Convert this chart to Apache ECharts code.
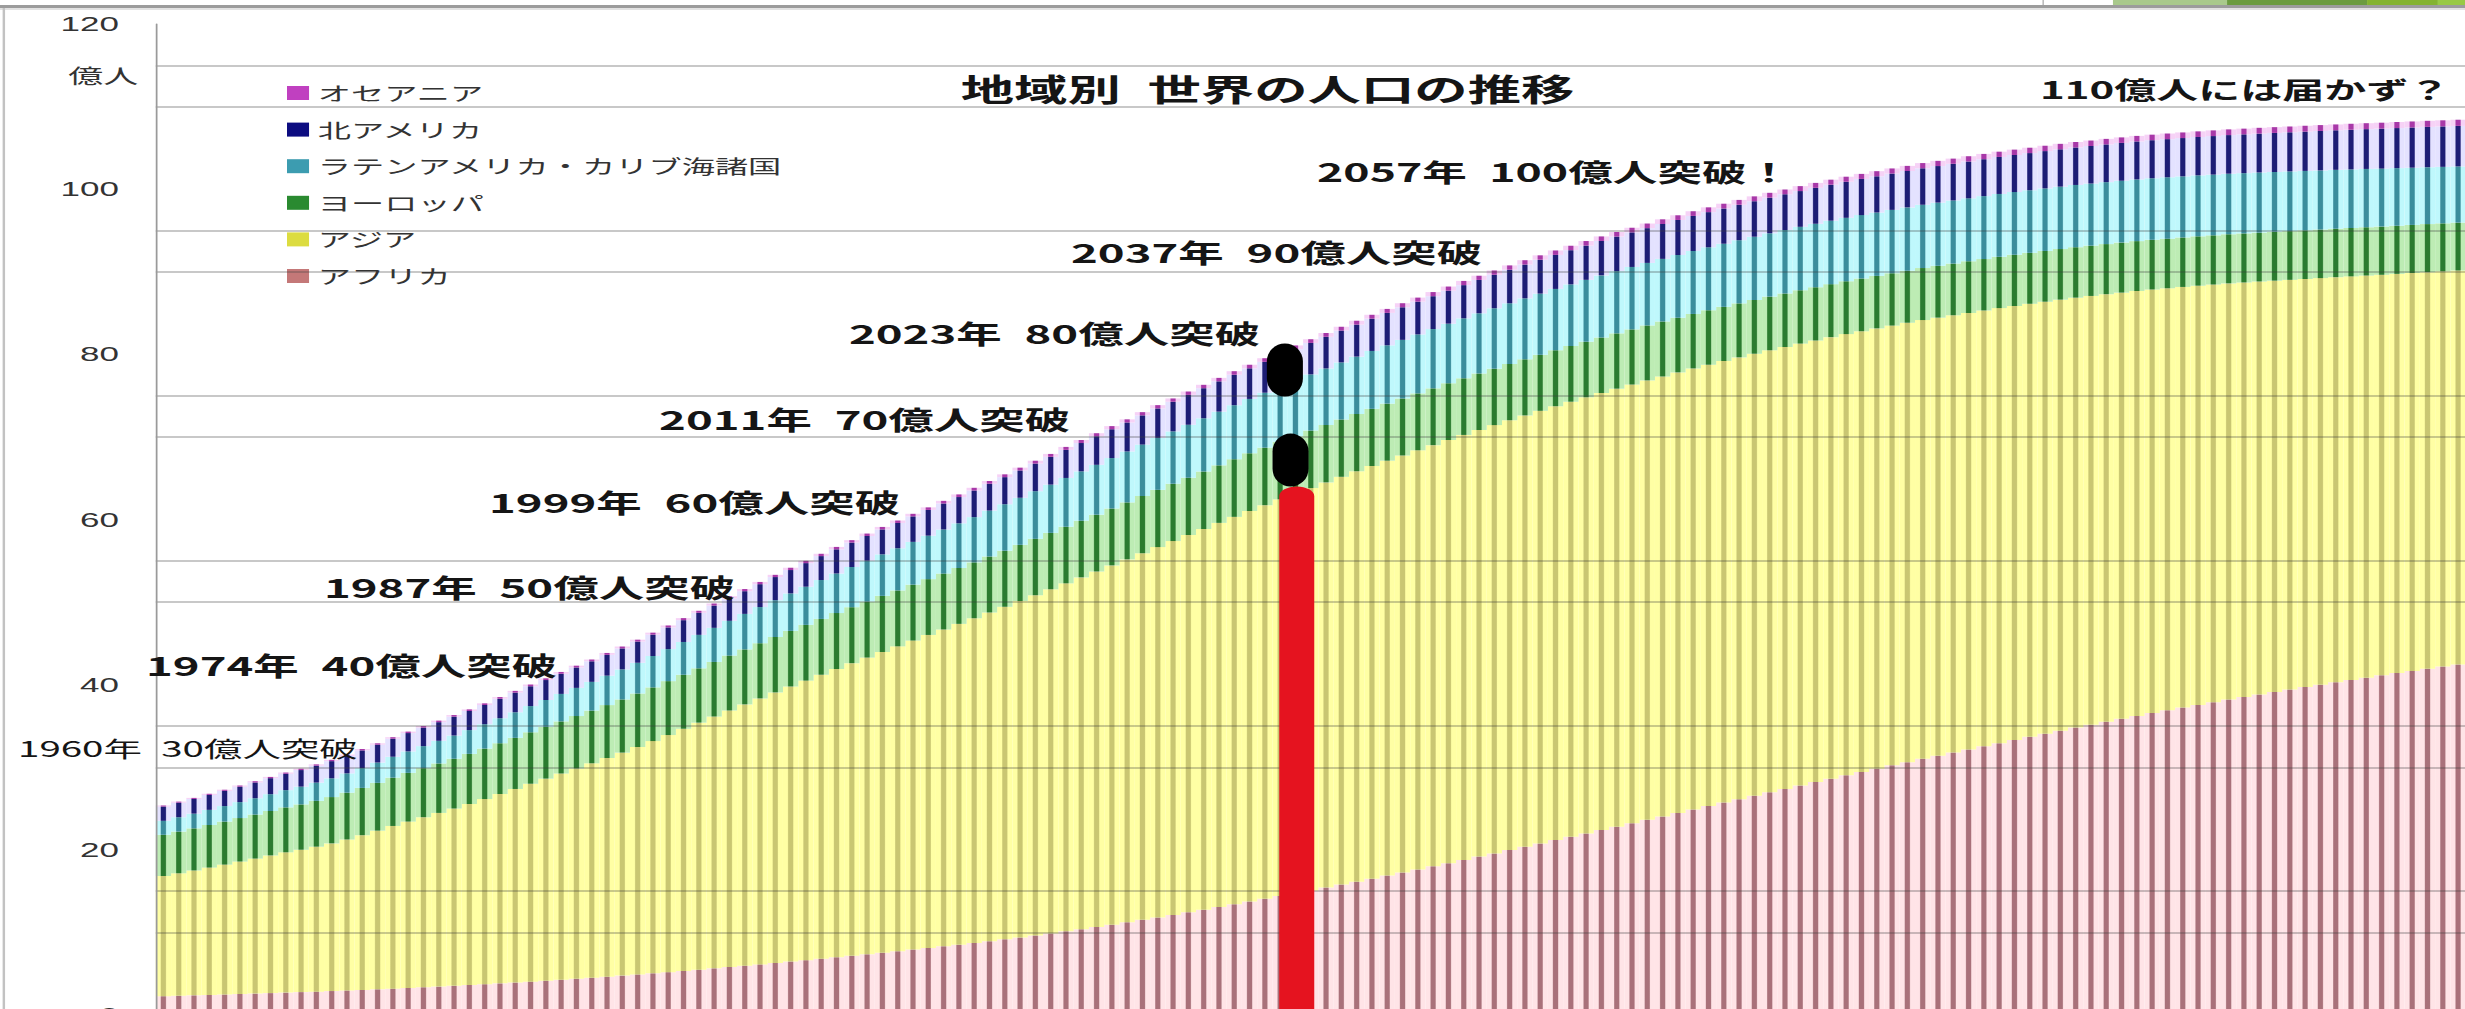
<!DOCTYPE html>
<html lang="ja">
<head>
<meta charset="utf-8">
<title>地域別 世界の人口の推移</title>
<script src="https://cdn.jsdelivr.net/npm/echarts@6/dist/echarts.min.js"></script>
<style>
  html, body { margin: 0; padding: 0; background: #fff; overflow: hidden; }
  #wrap { width: 2465px; height: 1009px; overflow: hidden; position: relative; }
  /* the slide stretches the whole chart sideways */
  #chart { width: 1409px; height: 1040px; transform: scaleX(1.75); transform-origin: 0 0; }
</style>
</head>
<body>
<div id="wrap"><div id="chart"></div></div>
<script>
// ---- data: population by region, 1950-2100 (unit: 億人) ----
const years = Array.from({ length: 151 }, (_, i) => String(1950 + i));

const africa = [
  2.28, 2.33, 2.38, 2.43, 2.48,      // 1950
  2.54, 2.59, 2.65, 2.71, 2.77,      // 1955
  2.83, 2.90, 2.97, 3.04, 3.11,      // 1960
  3.19, 3.27, 3.36, 3.44, 3.53,      // 1965
  3.63, 3.73, 3.83, 3.93, 4.04,      // 1970
  4.15, 4.27, 4.39, 4.51, 4.64,      // 1975
  4.77, 4.91, 5.05, 5.19, 5.34,      // 1980
  5.49, 5.65, 5.81, 5.97, 6.13,      // 1985
  6.30, 6.47, 6.64, 6.82, 6.99,      // 1990
  7.17, 7.35, 7.54, 7.72, 7.92,      // 1995
  8.11, 8.31, 8.51, 8.72, 8.94,      // 2000
  9.16, 9.39, 9.63, 9.88, 10.13,     // 2005
  10.39, 10.66, 10.94, 11.22, 11.52, // 2010
  11.82, 12.12, 12.43, 12.75, 13.08, // 2015
  13.41, 13.74, 14.07, 14.41, 14.74, // 2020
  15.08, 15.43, 15.79, 16.15, 16.51, // 2025
  16.88, 17.25, 17.63, 18.01, 18.39, // 2030
  18.78, 19.18, 19.57, 19.97, 20.37, // 2035
  20.77, 21.18, 21.58, 21.99, 22.40, // 2040
  22.81, 23.22, 23.64, 24.05, 24.47, // 2045
  24.89, 25.31, 25.72, 26.14, 26.55, // 2050
  26.97, 27.38, 27.79, 28.20, 28.62, // 2055
  29.03, 29.43, 29.83, 30.23, 30.62, // 2060
  31.02, 31.40, 31.78, 32.16, 32.54, // 2065
  32.92, 33.30, 33.68, 34.06, 34.43, // 2070
  34.80, 35.16, 35.52, 35.87, 36.22, // 2075
  36.56, 36.89, 37.22, 37.55, 37.87, // 2080
  38.19, 38.50, 38.81, 39.11, 39.41, // 2085
  39.71, 40.00, 40.29, 40.57, 40.85, // 2090
  41.13, 41.40, 41.67, 41.93, 42.19, // 2095
  42.45                              // 2100
];

const asia = [
  14.55, 14.83, 15.12, 15.42, 15.73, // 1950
  16.04, 16.35, 16.67, 16.99, 17.24, // 1955
  17.55, 17.88, 18.28, 18.73, 19.21, // 1960
  19.70, 20.15, 20.59, 21.03, 21.47, // 1965
  21.92, 22.42, 22.93, 23.44, 23.96, // 1970
  24.47, 24.97, 25.47, 25.97, 26.48, // 1975
  27.00, 27.55, 28.12, 28.71, 29.31, // 1980
  29.91, 30.49, 31.07, 31.64, 32.20, // 1985
  32.76, 33.31, 33.85, 34.38, 34.91, // 1990
  35.43, 35.93, 36.43, 36.92, 37.42, // 1995
  37.91, 38.38, 38.85, 39.32, 39.80, // 2000
  40.27, 40.74, 41.21, 41.67, 42.14, // 2005
  42.60, 43.05, 43.50, 43.95, 44.40, // 2010
  44.84, 45.27, 45.69, 46.10, 46.51, // 2015
  46.91, 47.29, 47.66, 48.03, 48.39, // 2020
  48.73, 49.06, 49.38, 49.68, 49.97, // 2025
  50.24, 50.50, 50.75, 50.99, 51.23, // 2030
  51.46, 51.66, 51.86, 52.05, 52.23, // 2035
  52.39, 52.54, 52.68, 52.81, 52.93, // 2040
  53.03, 53.12, 53.20, 53.28, 53.34, // 2045
  53.40, 53.44, 53.47, 53.49, 53.51, // 2050
  53.52, 53.52, 53.51, 53.49, 53.46, // 2055
  53.42, 53.37, 53.31, 53.25, 53.19, // 2060
  53.13, 53.04, 52.95, 52.86, 52.77, // 2065
  52.68, 52.56, 52.44, 52.31, 52.19, // 2070
  52.06, 51.91, 51.76, 51.60, 51.45, // 2075
  51.29, 51.11, 50.94, 50.76, 50.58, // 2080
  50.40, 50.20, 50.01, 49.81, 49.61, // 2085
  49.41, 49.23, 49.05, 48.87, 48.69, // 2090
  48.50, 48.34, 48.18, 48.02, 47.86, // 2095
  47.70                              // 2100
];

const europe = [
  4.99, 5.05, 5.10, 5.16, 5.21, // 1950
  5.27, 5.33, 5.38, 5.44, 5.49, // 1955
  5.55, 5.61, 5.67, 5.73, 5.79, // 1960
  5.85, 5.90, 5.94, 5.99, 6.03, // 1965
  6.07, 6.11, 6.15, 6.19, 6.23, // 1970
  6.27, 6.31, 6.34, 6.38, 6.41, // 1975
  6.44, 6.47, 6.50, 6.53, 6.55, // 1980
  6.58, 6.61, 6.64, 6.66, 6.69, // 1985
  6.71, 6.73, 6.75, 6.76, 6.77, // 1990
  6.78, 6.78, 6.78, 6.77, 6.77, // 1995
  6.76, 6.76, 6.77, 6.77, 6.78, // 2000
  6.79, 6.80, 6.82, 6.83, 6.85, // 2005
  6.86, 6.87, 6.89, 6.90, 6.92, // 2010
  6.93, 6.94, 6.95, 6.96, 6.97, // 2015
  6.98, 6.98, 6.97, 6.97, 6.96, // 2020
  6.96, 6.95, 6.94, 6.93, 6.92, // 2025
  6.91, 6.90, 6.89, 6.88, 6.87, // 2030
  6.86, 6.84, 6.83, 6.81, 6.80, // 2035
  6.78, 6.76, 6.75, 6.73, 6.72, // 2040
  6.70, 6.68, 6.66, 6.64, 6.62, // 2045
  6.60, 6.58, 6.56, 6.54, 6.52, // 2050
  6.50, 6.48, 6.46, 6.44, 6.42, // 2055
  6.40, 6.38, 6.36, 6.34, 6.32, // 2060
  6.30, 6.28, 6.26, 6.24, 6.23, // 2065
  6.21, 6.19, 6.17, 6.15, 6.13, // 2070
  6.11, 6.09, 6.07, 6.06, 6.04, // 2075
  6.02, 6.01, 5.99, 5.98, 5.96, // 2080
  5.95, 5.94, 5.92, 5.91, 5.90, // 2085
  5.89, 5.88, 5.87, 5.86, 5.85, // 2090
  5.84, 5.83, 5.82, 5.82, 5.81, // 2095
  5.80                          // 2100
];

const latinAmerica = [
  1.69, 1.74, 1.78, 1.83, 1.88, // 1950
  1.93, 1.98, 2.04, 2.09, 2.15, // 1955
  2.21, 2.27, 2.34, 2.40, 2.46, // 1960
  2.53, 2.60, 2.67, 2.74, 2.81, // 1965
  2.88, 2.95, 3.03, 3.10, 3.18, // 1970
  3.25, 3.33, 3.41, 3.48, 3.56, // 1975
  3.64, 3.72, 3.80, 3.88, 3.97, // 1980
  4.05, 4.13, 4.21, 4.30, 4.38, // 1985
  4.46, 4.54, 4.62, 4.71, 4.79, // 1990
  4.87, 4.95, 5.03, 5.11, 5.18, // 1995
  5.26, 5.34, 5.41, 5.48, 5.56, // 2000
  5.63, 5.70, 5.77, 5.84, 5.91, // 2005
  5.98, 6.04, 6.11, 6.17, 6.23, // 2010
  6.29, 6.34, 6.40, 6.45, 6.50, // 2015
  6.54, 6.59, 6.65, 6.70, 6.75, // 2020
  6.80, 6.85, 6.91, 6.96, 7.01, // 2025
  7.06, 7.10, 7.14, 7.18, 7.22, // 2030
  7.26, 7.29, 7.32, 7.35, 7.38, // 2035
  7.41, 7.44, 7.46, 7.49, 7.51, // 2040
  7.54, 7.56, 7.57, 7.59, 7.60, // 2045
  7.62, 7.63, 7.64, 7.65, 7.66, // 2050
  7.67, 7.67, 7.68, 7.68, 7.68, // 2055
  7.68, 7.68, 7.67, 7.67, 7.66, // 2060
  7.66, 7.65, 7.64, 7.63, 7.62, // 2065
  7.61, 7.60, 7.58, 7.57, 7.55, // 2070
  7.54, 7.52, 7.50, 7.49, 7.47, // 2075
  7.45, 7.43, 7.40, 7.38, 7.35, // 2080
  7.33, 7.30, 7.28, 7.25, 7.23, // 2085
  7.20, 7.16, 7.13, 7.09, 7.06, // 2090
  7.02, 6.98, 6.93, 6.89, 6.84, // 2095
  6.80                          // 2100
];

const northAmerica = [
  1.73, 1.76, 1.78, 1.81, 1.84, // 1950
  1.87, 1.91, 1.94, 1.98, 2.01, // 1955
  2.05, 2.08, 2.11, 2.14, 2.16, // 1960
  2.19, 2.22, 2.24, 2.26, 2.29, // 1965
  2.31, 2.33, 2.36, 2.38, 2.40, // 1970
  2.42, 2.44, 2.47, 2.49, 2.52, // 1975
  2.54, 2.57, 2.59, 2.62, 2.64, // 1980
  2.67, 2.70, 2.72, 2.75, 2.77, // 1985
  2.80, 2.83, 2.86, 2.90, 2.93, // 1990
  2.96, 2.99, 3.02, 3.06, 3.09, // 1995
  3.12, 3.15, 3.18, 3.22, 3.25, // 2000
  3.28, 3.31, 3.34, 3.37, 3.40, // 2005
  3.43, 3.46, 3.49, 3.51, 3.54, // 2010
  3.57, 3.59, 3.62, 3.64, 3.67, // 2015
  3.69, 3.71, 3.74, 3.76, 3.79, // 2020
  3.81, 3.83, 3.86, 3.88, 3.91, // 2025
  3.93, 3.95, 3.97, 3.98, 4.00, // 2030
  4.02, 4.04, 4.06, 4.07, 4.09, // 2035
  4.11, 4.12, 4.14, 4.15, 4.17, // 2040
  4.18, 4.19, 4.21, 4.22, 4.24, // 2045
  4.25, 4.26, 4.27, 4.29, 4.30, // 2050
  4.31, 4.32, 4.33, 4.35, 4.36, // 2055
  4.37, 4.38, 4.39, 4.40, 4.41, // 2060
  4.42, 4.43, 4.44, 4.46, 4.47, // 2065
  4.48, 4.49, 4.50, 4.52, 4.53, // 2070
  4.54, 4.55, 4.57, 4.58, 4.60, // 2075
  4.61, 4.62, 4.64, 4.65, 4.67, // 2080
  4.68, 4.70, 4.71, 4.73, 4.74, // 2085
  4.76, 4.78, 4.79, 4.81, 4.82, // 2090
  4.84, 4.85, 4.87, 4.88, 4.90, // 2095
  4.91                          // 2100
];

const oceania = [
  0.13, 0.13, 0.13, 0.14, 0.14, // 1950
  0.14, 0.15, 0.15, 0.15, 0.16, // 1955
  0.16, 0.16, 0.17, 0.17, 0.17, // 1960
  0.18, 0.18, 0.18, 0.19, 0.19, // 1965
  0.20, 0.20, 0.20, 0.21, 0.21, // 1970
  0.21, 0.22, 0.22, 0.22, 0.23, // 1975
  0.23, 0.23, 0.24, 0.24, 0.25, // 1980
  0.25, 0.25, 0.26, 0.26, 0.27, // 1985
  0.27, 0.28, 0.28, 0.28, 0.29, // 1990
  0.29, 0.30, 0.30, 0.30, 0.31, // 1995
  0.31, 0.32, 0.32, 0.33, 0.33, // 2000
  0.34, 0.34, 0.35, 0.35, 0.36, // 2005
  0.37, 0.37, 0.38, 0.38, 0.39, // 2010
  0.40, 0.40, 0.41, 0.41, 0.42, // 2015
  0.43, 0.43, 0.44, 0.44, 0.45, // 2020
  0.45, 0.46, 0.46, 0.47, 0.47, // 2025
  0.48, 0.49, 0.49, 0.50, 0.50, // 2030
  0.51, 0.51, 0.52, 0.52, 0.53, // 2035
  0.53, 0.54, 0.54, 0.55, 0.55, // 2040
  0.55, 0.56, 0.56, 0.57, 0.57, // 2045
  0.57, 0.58, 0.58, 0.59, 0.59, // 2050
  0.59, 0.60, 0.60, 0.60, 0.61, // 2055
  0.61, 0.61, 0.62, 0.62, 0.62, // 2060
  0.63, 0.63, 0.63, 0.64, 0.64, // 2065
  0.64, 0.65, 0.65, 0.65, 0.66, // 2070
  0.66, 0.66, 0.67, 0.67, 0.67, // 2075
  0.67, 0.68, 0.68, 0.68, 0.69, // 2080
  0.69, 0.69, 0.70, 0.70, 0.70, // 2085
  0.71, 0.71, 0.71, 0.72, 0.72, // 2090
  0.72, 0.73, 0.73, 0.74, 0.74, // 2095
  0.75                          // 2100
];

// stacking order, bottom to top
const regionNames = ['アフリカ', 'アジア', 'ヨーロッパ', 'ラテンアメリカ・カリブ海諸国', '北アメリカ', 'オセアニア'];
const regionValues = [africa, asia, europe, latinAmerica, northAmerica, oceania];
// legend lists the regions top to bottom
const legendNames = ['オセアニア', '北アメリカ', 'ラテンアメリカ・カリブ海諸国', 'ヨーロッパ', 'アジア', 'アフリカ'];

const yTickLabels = [0, 20, 40, 60, 80, 100, 120];
const yUnit = '億人';
const chartTitle = '地域別\u2002世界の人口の推移';
const milestoneTexts = [
  '1960年\u200230億人突破',
  '1974年\u200240億人突破',
  '1987年\u200250億人突破',
  '1999年\u200260億人突破',
  '2011年\u200270億人突破',
  '2023年\u200280億人突破',
  '2037年\u200290億人突破',
  '2057年\u2002100億人突破！',
  '110億人には届かず？'
];

// "now" marker: the red bar and the two dots above it
const nowYear = '2024';
const nowBarTop = 62.8;
const nowDots = [['2023', 78.1], ['2024', 67.2]];

// ---- styling ----
const JP = '"Noto Sans CJK JP", "Noto Sans CJK SC", sans-serif';
const palette = {
  'アフリカ':                 { light: '#ffe4e7', dark: '#a9717a', key: '#c47878' },
  'アジア':                   { light: '#ffffa4', dark: '#c9c672', key: '#dcdc40' },
  'ヨーロッパ':               { light: '#bdecb4', dark: '#2b7b2f', key: '#2a8a30' },
  'ラテンアメリカ・カリブ海諸国': { light: '#bff8fc', dark: '#3b8d9c', key: '#3c9cb0' },
  '北アメリカ':               { light: '#e4e2ff', dark: '#1d1d75', key: '#0c0c80' },
  'オセアニア':               { light: '#f6d2f6', dark: '#a838a8', key: '#c040c0' }
};

// each bar: pale fill with a darker stripe down its middle
function stripe(c) {
  return new echarts.graphic.LinearGradient(0, 0, 1, 0, [
    { offset: 0, color: c.light },
    { offset: 0.29, color: c.light },
    { offset: 0.37, color: c.dark },
    { offset: 0.63, color: c.dark },
    { offset: 0.71, color: c.light },
    { offset: 1, color: c.light }
  ]);
}

// positions of the milestone captions (x in chart px, y = text middle)
const milestoneStyle = [
  { x: 10.3,   y: 748, size: 22, weight: 'normal' },
  { x: 83.4,   y: 665, size: 26, weight: 'bold' },
  { x: 185.1,  y: 587, size: 26, weight: 'bold' },
  { x: 279.4,  y: 502, size: 26, weight: 'bold' },
  { x: 376.6,  y: 419, size: 26, weight: 'bold' },
  { x: 485.1,  y: 333, size: 26, weight: 'bold' },
  { x: 612.0,  y: 252, size: 26, weight: 'bold' },
  { x: 752.6,  y: 171, size: 25.5, weight: 'bold' },
  { x: 1165.7, y: 88,  size: 24, weight: 'bold' }
];

const graphicElements = [
  // slide frame
  { type: 'rect', silent: true, shape: { x: 0, y: 5, width: 1409, height: 3 }, style: { fill: '#9c9c9c' } },
  { type: 'rect', silent: true, shape: { x: 0, y: 8, width: 1409, height: 2 }, style: { fill: '#e2e2e2' } },
  { type: 'rect', silent: true, shape: { x: 1.5, y: 8, width: 1.4, height: 1040 }, style: { fill: '#c2c2c2' } },
  // green ribbon in the top-right corner
  { type: 'rect', silent: true, shape: { x: 1167.2, y: 0, width: 0.6, height: 5 }, style: { fill: '#9a9a9a' } },
  { type: 'rect', silent: true, shape: { x: 1207.4, y: 0, width: 65.2, height: 5 }, style: { fill: '#a9c98c' } },
  { type: 'rect', silent: true, shape: { x: 1272.6, y: 0, width: 80.0, height: 5 }, style: { fill: '#6b9b3f' } },
  { type: 'rect', silent: true, shape: { x: 1352.6, y: 0, width: 40.5, height: 5 }, style: { fill: '#84b330' } },
  { type: 'rect', silent: true, shape: { x: 1393.1, y: 0, width: 16,   height: 5 }, style: { fill: '#98c944' } }
].concat(milestoneTexts.map((t, i) => ({
  type: 'text',
  silent: true,
  z: 20,
  x: milestoneStyle[i].x,
  y: milestoneStyle[i].y,
  style: {
    text: t,
    fill: '#151515',
    font: milestoneStyle[i].weight + ' ' + milestoneStyle[i].size + 'px ' + JP,
    align: 'left',
    verticalAlign: 'middle'
  }
})));

const series = regionNames.map((name, i) => ({
  name: name,
  type: 'bar',
  stack: 'population',
  barCategoryGap: '0%',
  data: regionValues[i],
  itemStyle: { color: stripe(palette[name]) },
  emphasis: { disabled: true },
  z: 2
}));

// host for the red "now" bar and the two dots
series.push({
  name: 'now',
  type: 'scatter',
  data: [],
  z: 10,
  silent: true,
  markLine: {
    silent: true,
    symbol: ['none', 'none'],
    label: { show: false },
    emphasis: { disabled: true },
    lineStyle: { color: '#e5131f', width: 20, type: 'solid', cap: 'round', opacity: 1 },
    data: [[{ coord: [nowYear, nowBarTop] }, { coord: [nowYear, 0] }]]
  },
  markPoint: {
    silent: true,
    symbol: 'path://M0,10A10,10 0 0 1 20,10L20,20A10,10 0 0 1 0,20Z',
    symbolSize: [20.6, 53],
    itemStyle: { color: '#000' },
    label: { show: false },
    data: [
      { coord: nowDots[0], symbolOffset: [2.7, 0] },
      { coord: nowDots[1], symbolOffset: [-2.8, 0] }
    ]
  }
});

const chart = echarts.init(document.getElementById('chart'), null, { renderer: 'svg' });
chart.setOption({
  animation: false,
  backgroundColor: '#ffffff',
  title: {
    text: chartTitle,
    left: 549,
    top: 73,
    padding: 0,
    textStyle: { fontSize: 30.5, fontWeight: 'bold', color: '#151515', fontFamily: JP, lineHeight: 30 }
  },
  legend: {
    orient: 'vertical',
    left: 164,
    top: 83,
    padding: 0,
    itemGap: 16.6,
    itemWidth: 12.6,
    itemHeight: 14,
    icon: 'rect',
    selectedMode: false,
    textStyle: { fontSize: 19, color: '#333', fontFamily: JP, lineHeight: 20 },
    data: legendNames.map(n => ({ name: n, itemStyle: { color: palette[n].key } }))
  },
  grid: { left: 89, right: 0, top: 24, bottom: 25, containLabel: false, outerBoundsMode: 'none' },
  xAxis: {
    type: 'category',
    data: years,
    boundaryGap: true,
    axisLine: { show: false },
    axisTick: { show: false },
    axisLabel: { show: false },
    splitLine: { show: false }
  },
  yAxis: {
    type: 'value',
    min: 0,
    max: 120,
    interval: 5,
    z: 5,
    name: yUnit,
    nameLocation: 'end',
    nameGap: -51,
    nameTextStyle: { fontSize: 20, color: '#333', fontFamily: JP, align: 'right', verticalAlign: 'middle', padding: [0, 10, 0, 0] },
    axisLine: { show: true, lineStyle: { color: '#9a9a9a', width: 1 } },
    axisTick: { show: false },
    axisLabel: {
      margin: 21,
      fontSize: 20,
      color: '#333',
      fontFamily: '"Liberation Sans", Arial, sans-serif',
      formatter: v => (yTickLabels.indexOf(v) >= 0 ? String(v) : '')
    },
    splitLine: {
      show: true,
      lineStyle: {
        width: 1.6,
        color: ['rgba(0,0,0,0)', 'rgba(0,0,0,0)', 'rgba(60,60,60,0.38)', 'rgba(60,60,60,0.38)']
      }
    }
  },
  graphic: { elements: graphicElements },
  series: series
});
</script>
</body>
</html>
